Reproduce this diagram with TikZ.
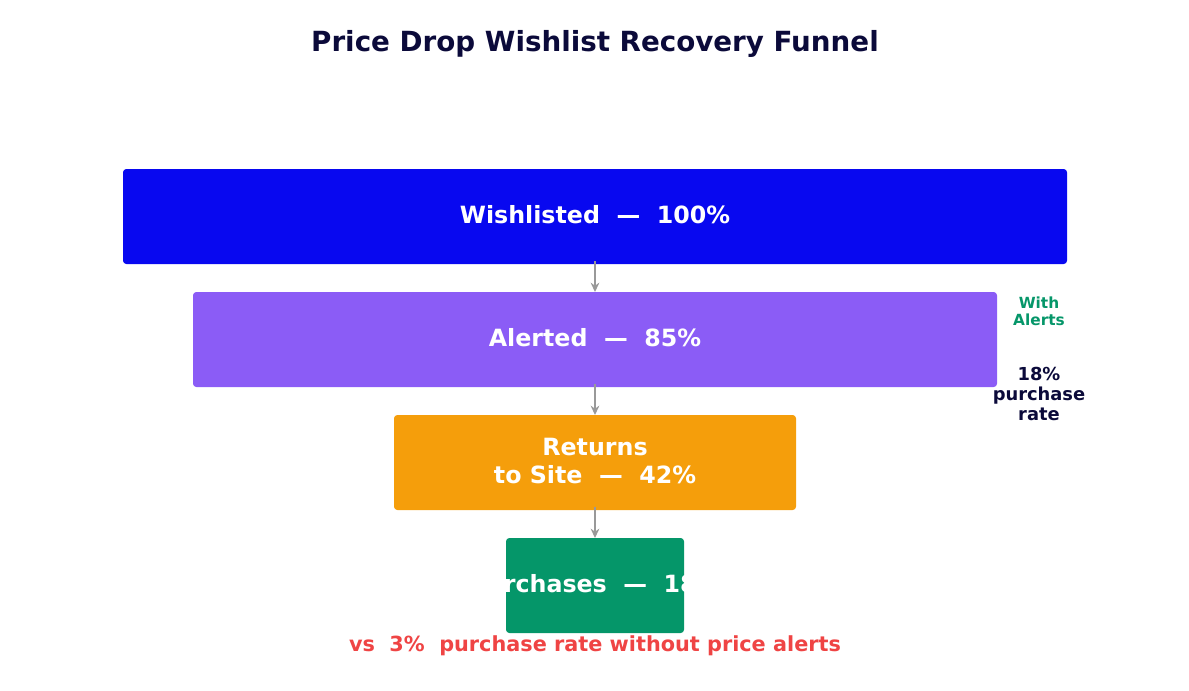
\documentclass[tikz,border=0pt]{standalone}
\usepackage{fontspec}
\setmainfont{DejaVu Sans}
\definecolor{cblue}{HTML}{0808F0}
\definecolor{cpurple}{HTML}{8B5CF6}
\definecolor{corange}{HTML}{F59E0B}
\definecolor{cgreen}{HTML}{059669}
\definecolor{cnavy}{HTML}{0B0A3A}
\definecolor{cred}{HTML}{EF4444}
\definecolor{cgray}{HTML}{999999}
\tikzset{
  stage/.style={fill=#1, draw=none, rounded corners=2.5pt},
  stagetext/.style={text=white, font=\bfseries\fontsize{17.8}{20.5}\selectfont, align=center},
  flow/.style={draw=cgray, line width=1.4pt, -{Stealth[length=7pt,width=6.5pt]}},
}
\usetikzlibrary{arrows.meta}
\begin{document}
\begin{tikzpicture}[x=0.75pt,y=-0.75pt]
\useasboundingbox (0,0) rectangle (1189,690);
\node[font=\bfseries\fontsize{20.8}{24}\selectfont, text=cnavy] (title) at (595,44) {Price Drop Wishlist Recovery Funnel};
% boxes
\path[stage=cblue] (123,169) rectangle (1067,264);
\coordinate (b1b) at (595,261);
\path[stage=cpurple] (193,292) rectangle (997,387);
\coordinate (b2t) at (595,292); \coordinate (b2b) at (595,384);
\path[stage=corange] (394,415) rectangle (796,510);
\coordinate (b3t) at (595,415); \coordinate (b3b) at (595,507);
\path[stage=cgreen] (506,538) rectangle (684,633);
\coordinate (b4t) at (595,538);
\node[stagetext] (t1) at (595,215) {Wishlisted\ \ —\ \ 100\%};
\node[stagetext] (t2) at (595,338) {Alerted\ \ —\ \ 85\%};
\node[stagetext] (t3) at (595,461) {Returns\\to Site\ \ —\ \ 42\%};
\begin{scope}
\clip (506,538) rectangle (684,633);
\node[stagetext] (t4) at (595,584) {Purchases\ \ —\ \ 18\%};
\end{scope}
% arrows
\draw[flow] (b1b) -- (b2t);
\draw[flow] (b2b) -- (b3t);
\draw[flow] (b3b) -- (b4t);
% side notes
\node[text=cgreen, font=\bfseries\fontsize{11.5}{12.8}\selectfont, align=center] (with) at (1039,311) {With\\Alerts};
\node[text=cnavy, font=\bfseries\fontsize{13.4}{15.3}\selectfont, align=center] (rate) at (1039,394) {18\%\\purchase\\rate};
\node[text=cred, font=\bfseries\fontsize{15.6}{18}\selectfont] (vs) at (595,646) {vs\ \ 3\%\ \ purchase rate without price alerts};
\end{tikzpicture}
\end{document}
